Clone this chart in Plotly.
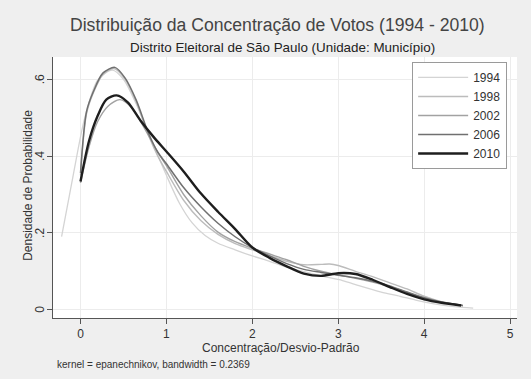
import plotly.graph_objects as go

# ---- data ----
years = ["1994", "1998", "2002", "2006", "2010"]

x_1994 = [-0.22, -0.09, 0.05, 0.2, 0.37, 0.5, 0.65, 0.8, 1.0, 1.15, 1.3, 1.45, 1.6, 1.8, 2.0, 2.2, 2.4, 2.6, 2.8, 3.05, 3.25, 3.5, 3.72, 3.9, 4.1, 4.35, 4.57]
y_1994 = [0.19, 0.344, 0.50, 0.598, 0.624, 0.6, 0.535, 0.455, 0.35, 0.278, 0.226, 0.193, 0.173, 0.156, 0.14, 0.126, 0.111, 0.099, 0.088, 0.076, 0.062, 0.046, 0.035, 0.025, 0.016, 0.008, 0.004]

x_1998 = [0.0, 0.07, 0.15, 0.26, 0.39, 0.52, 0.65, 0.79, 0.9, 1.0, 1.2, 1.4, 1.6, 1.8, 2.0, 2.2, 2.4, 2.6, 2.8, 2.9, 3.0, 3.2, 3.4, 3.6, 3.8, 4.0, 4.2, 4.45]
y_1998 = [0.35, 0.51, 0.565, 0.612, 0.628, 0.6, 0.54, 0.455, 0.4, 0.36, 0.285, 0.232, 0.196, 0.172, 0.156, 0.141, 0.126, 0.117, 0.118, 0.119, 0.115, 0.1, 0.086, 0.07, 0.054, 0.035, 0.021, 0.011]

x_2002 = [0.0, 0.1, 0.2, 0.32, 0.46, 0.6, 0.75, 0.9, 1.0, 1.2, 1.4, 1.6, 1.8, 2.0, 2.2, 2.4, 2.6, 2.8, 3.0, 3.2, 3.4, 3.6, 3.8, 4.0, 4.2, 4.45]
y_2002 = [0.33, 0.425, 0.49, 0.53, 0.547, 0.525, 0.47, 0.41, 0.375, 0.3, 0.245, 0.202, 0.177, 0.16, 0.145, 0.13, 0.113, 0.1, 0.09, 0.082, 0.072, 0.06, 0.045, 0.03, 0.019, 0.01]

x_2006 = [0.0, 0.07, 0.15, 0.26, 0.40, 0.52, 0.65, 0.79, 0.9, 1.0, 1.2, 1.4, 1.6, 1.8, 2.0, 2.2, 2.4, 2.6, 2.8, 3.0, 3.2, 3.4, 3.6, 3.8, 4.0, 4.2, 4.45]
y_2006 = [0.356, 0.516, 0.568, 0.616, 0.631, 0.603, 0.545, 0.46, 0.41, 0.38, 0.318, 0.268, 0.225, 0.19, 0.162, 0.14, 0.12, 0.105, 0.097, 0.09, 0.083, 0.074, 0.062, 0.046, 0.031, 0.02, 0.011]

x_2010 = [0.0, 0.1, 0.2, 0.3, 0.42, 0.55, 0.7, 0.85, 1.0, 1.2, 1.4, 1.6, 1.8, 2.0, 2.2, 2.4, 2.6, 2.8, 3.0, 3.2, 3.4, 3.6, 3.8, 4.0, 4.2, 4.43]
y_2010 = [0.334, 0.44, 0.505, 0.547, 0.558, 0.54, 0.492, 0.45, 0.412, 0.36, 0.303, 0.255, 0.21, 0.162, 0.135, 0.113, 0.094, 0.088, 0.095, 0.093, 0.078, 0.059, 0.041, 0.027, 0.018, 0.011]

x_ticks = [0, 1, 2, 3, 4, 5]
y_ticks = [0, 0.2, 0.4, 0.6]
y_tick_labels = ["0", ".2", ".4", ".6"]

series_x = [x_1994, x_1998, x_2002, x_2006, x_2010]
series_y = [y_1994, y_1998, y_2002, y_2006, y_2010]
colors = ["#d4d4d4", "#bcbcbc", "#a2a2a2", "#707070", "#1e1e1e"]
widths = [1.3, 1.4, 1.4, 1.5, 2.4]

FONT = "Liberation Sans, Arial, Helvetica, sans-serif"

fig = go.Figure()
for name, xs, ys, c, w in zip(years, series_x, series_y, colors, widths):
    fig.add_trace(go.Scatter(x=xs, y=ys, mode="lines", name=name,
                             line=dict(color=c, width=w, shape="spline", smoothing=0.8)))

fig.update_layout(
    width=531, height=379,
    margin=dict(l=53, r=14, t=57, b=61),
    paper_bgcolor="#efefef",
    plot_bgcolor="#ffffff",
    font=dict(family=FONT, color="#333333", size=12),
    showlegend=True,
    legend=dict(x=0.774, y=0.981, xanchor="left", yanchor="top",
                bgcolor="#ffffff", bordercolor="#9a9a9a", borderwidth=1,
                font=dict(size=12, color="#333333"), itemwidth=50,
                tracegroupgap=0),
    xaxis=dict(range=[-0.32, 5.08], tickvals=x_ticks, ticks="outside", ticklen=5,
               tickcolor="#555555", showline=True, linecolor="#555555", linewidth=1,
               showgrid=True, gridcolor="#ececec", gridwidth=1, zeroline=False,
               tickfont=dict(size=12, color="#333333")),
    yaxis=dict(range=[-0.0216, 0.658], tickvals=y_ticks, showticklabels=False,
               ticks="outside", ticklen=5,
               tickcolor="#555555", showline=True, linecolor="#555555", linewidth=1,
               showgrid=True, gridcolor="#ececec", gridwidth=1, zeroline=False),
)

for v, lab in zip(y_ticks, y_tick_labels):
    fig.add_annotation(text=lab, textangle=-90, xref="paper", yref="y", x=-0.028, y=v,
                       xanchor="center", yanchor="middle", showarrow=False,
                       font=dict(size=12, color="#333333", family=FONT))

fig.add_annotation(text="Distribuição da Concentração de Votos (1994 - 2010)",
                   xref="paper", yref="paper", x=0.483, y=1.1226, xanchor="center", yanchor="middle",
                   showarrow=False, font=dict(size=17.6, color="#444444", family=FONT))
fig.add_annotation(text="Distrito Eleitoral de São Paulo (Unidade: Município)",
                   xref="paper", yref="paper", x=0.495, y=1.038, xanchor="center", yanchor="middle",
                   showarrow=False, font=dict(size=13.4, color="#222222", family=FONT))
fig.add_annotation(text="Concentração/Desvio-Padrão",
                   xref="paper", yref="paper", x=0.491, y=-0.115, xanchor="center", yanchor="middle",
                   showarrow=False, font=dict(size=12, color="#333333", family=FONT))
fig.add_annotation(text="Densidade de Probabilidade", textangle=-90,
                   xref="paper", yref="paper", x=-0.054, y=0.51, xanchor="center", yanchor="middle",
                   showarrow=False, font=dict(size=12, color="#333333", family=FONT))
fig.add_annotation(text="kernel = epanechnikov, bandwidth = 0.2369",
                   xref="paper", yref="paper", x=0.0043, y=-0.18, xanchor="left", yanchor="middle",
                   showarrow=False, font=dict(size=10, color="#333333", family=FONT))

fig.write_html("out.html")
